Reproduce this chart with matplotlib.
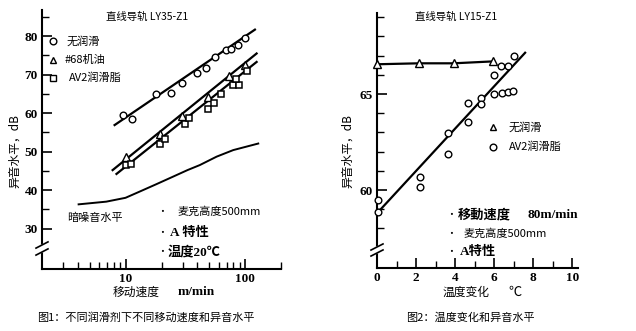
import matplotlib
matplotlib.use("Agg")
import matplotlib.pyplot as plt
import numpy as np

# ---------------- data: chart 1 (speed vs noise) ----------------
no_lub_speed = [9.6, 11.4, 17.9, 23.9, 29.7, 39.7, 46.8, 56, 68.8, 76.2, 87.3, 99.4]
no_lub_db = [59.5, 58.6, 64.9, 65.2, 67.9, 70.5, 71.6, 74.6, 76.4, 76.7, 77.7, 79.6]
no_lub_fit_speed = [8.1, 121]
no_lub_fit_db = [56.9, 81.7]

oil_speed = [10, 19.3, 29.9, 49.2, 73.8, 99.4]
oil_db = [48.6, 54.7, 59.2, 64.2, 69.6, 72.4]
oil_fit_speed = [7.8, 125]
oil_fit_db = [45.2, 75.5]

grease_speed = [10, 11.2, 19.3, 21.6, 31.7, 33.7, 49.2, 55.3, 62.8, 79.7, 89.4, 84.1, 103]
grease_db = [46.5, 46.9, 51.9, 53.4, 57.3, 58.8, 61.2, 62.7, 64.9, 67.3, 67.3, 68.8, 70.9]
grease_fit_speed = [8.4, 125]
grease_fit_db = [44.2, 73.3]

floor_speed = [4.05, 6.9, 10, 13.1, 18, 25, 33, 41.8, 57.9, 79.7, 129]
floor_db = [36.3, 37.0, 38.0, 39.6, 41.5, 43.5, 45.2, 46.5, 48.7, 50.4, 52.1]

# ---------------- data: chart 2 (temperature vs noise) ----------------
t_nolub = [0, 2.14, 3.93, 5.95]
db_nolub = [66.55, 66.6, 66.6, 66.7]

t_grease = [0.07, 0.07, 2.21, 2.21, 3.66, 3.63, 4.68, 4.68, 5.33, 5.33,
            5.97, 5.97, 6.38, 6.7, 6.96, 6.34, 6.73, 7.0]
db_grease = [59.5, 58.87, 60.7, 60.14, 62.98, 61.9, 64.55, 63.56, 64.77, 64.5,
             66.0, 65.0, 65.03, 65.1, 65.16, 66.46, 66.46, 67.0]
t_fit = [0.1, 7.59]
db_fit = [58.9, 67.15]

W, H = 636, 331
fig = plt.figure(figsize=(W / 100, H / 100), dpi=100)
fig.patch.set_facecolor("white")

CJK = ["Noto Sans CJK SC", "DejaVu Sans"]
SERIFB = ["Liberation Serif", "Noto Sans CJK SC", "DejaVu Sans"]


def P(x, y):
    return x / W, 1 - y / H


def ftext(x, y, s, size=8, family=CJK, weight="normal", ha="left", va="center", **kw):
    fig.text(*P(x, y), s, fontsize=size, family=family, weight=weight, ha=ha, va=va, **kw)


def style_axes(ax):
    for s in ["top", "right"]:
        ax.spines[s].set_visible(False)
    for s in ["left", "bottom"]:
        ax.spines[s].set_linewidth(1.5)
    ax.tick_params(which="major", direction="in", length=7, width=1.2, pad=3)
    ax.tick_params(which="minor", direction="in", length=5, width=1.0)
    for lab in ax.get_xticklabels() + ax.get_yticklabels():
        lab.set_fontfamily("Liberation Serif")
        lab.set_fontweight("bold")
        lab.set_fontsize(9.5)


def axis_break(ax, y0, y1, dx):
    # white gap + two slanted strokes crossing the y axis
    ax.fill([-dx, dx, dx, -dx], [y0 - 0.012, y0 + 0.012, y1 + 0.012, y1 - 0.012],
            color="white", transform=ax.transAxes, clip_on=False, zorder=5)
    for yy in (y0, y1):
        ax.plot([-dx, dx], [yy - 0.012, yy + 0.012], color="black", lw=1.2,
                transform=ax.transAxes, clip_on=False, zorder=6)


# ================= chart 1 =================
ax1 = fig.add_axes([42 / W, 1 - 269 / H, (281 - 42) / W, (269 - 10) / H])
ax1.set_xscale("log")
ax1.set_xlim(2, 200)
ax1.set_ylim(19.5, 86.8)
ax1.set_xticks([10, 100])
ax1.set_xticklabels(["10", "100"])
ax1.set_xticks([3, 4, 5, 6, 7, 8, 9, 20, 30, 40, 50, 60, 70, 80, 90, 200], minor=True)
ax1.xaxis.set_minor_formatter(matplotlib.ticker.NullFormatter())
ax1.set_yticks([30, 40, 50, 60, 70, 80])
ax1.set_yticks([35, 45, 55, 65, 75, 85], minor=True)
style_axes(ax1)

lw = 1.6
ax1.plot(no_lub_fit_speed, no_lub_fit_db, color="black", lw=lw, zorder=2)
ax1.plot(oil_fit_speed, oil_fit_db, color="black", lw=lw, zorder=2)
ax1.plot(grease_fit_speed, grease_fit_db, color="black", lw=lw, zorder=2)
ax1.plot(floor_speed, floor_db, color="black", lw=1.4, zorder=2)
ax1.plot(no_lub_speed, no_lub_db, "o", ms=4.8, mfc="white", mec="black", mew=1.0, zorder=3)
ax1.plot(oil_speed, oil_db, "^", ms=5.2, mfc="white", mec="black", mew=1.0, zorder=3)
ax1.plot(grease_speed, grease_db, "s", ms=5.0, mfc="white", mec="black", mew=1.1, zorder=3)
axis_break(ax1, (269 - 252) / 259, (269 - 245) / 259, 6 / 239)

# legend (manual)
def fig_marker(x, y, m, ms):
    fig.lines.append(matplotlib.lines.Line2D([x / W], [1 - y / H], marker=m, ms=ms,
                                             mfc="white", mec="black", mew=1.0,
                                             transform=fig.transFigure))

fig_marker(53, 41, "o", 4.8)
fig_marker(53, 60, "^", 5.0)
fig_marker(53, 78, "s", 5.0)
ftext(67, 41, "无润滑", 8)
ftext(65, 60, "#68机油", 8)
ftext(69, 78, "AV2润滑脂", 8)

ftext(147, 17, "直线导轨 LY35-Z1", 7.5, ha="center")
ftext(15, 151, "异音水平，dB", 8.5, ha="center", rotation=90)
ftext(94.5, 218, "暗噪音水平", 8, ha="center")
ftext(162, 212, "•", 7, ha="center")
ftext(162, 233, "•", 7, ha="center")
ftext(162, 252, "•", 7, ha="center")
ftext(177, 212, "麦克高度500mm", 8)
ftext(170, 233, "A 特性", 9.5, family=SERIFB, weight="bold")
ftext(168, 252, "温度20℃", 9.5, family=SERIFB, weight="bold")
ftext(136.5, 292, "移动速度", 8.5, ha="center")
ftext(196.5, 292, "m/min", 9.5, family=SERIFB, weight="bold", ha="center")
ftext(146, 317, "图1：不同润滑剂下不同移动速度和异音水平", 8, ha="center")

# ================= chart 2 =================
ax2 = fig.add_axes([377 / W, 1 - 268 / H, (578 - 377) / W, (268 - 13) / H])
ax2.set_xlim(0, 10.3)
ax2.set_ylim(55.94, 69.22)
ax2.set_xticks([0, 2, 4, 6, 8, 10])
ax2.set_xticks([1, 3, 5, 7, 9], minor=True)
ax2.set_yticks([60, 65])
ax2.set_yticks([58, 59, 61, 62, 63, 64, 66, 67, 68, 69], minor=True)
style_axes(ax2)

ax2.plot(t_nolub, db_nolub, color="black", lw=lw, zorder=2, clip_on=False)
ax2.plot(t_fit, db_fit, color="black", lw=lw, zorder=2)
ax2.plot(t_nolub, db_nolub, "^", ms=5.2, mfc="white", mec="black", mew=1.0, zorder=4, clip_on=False)
ax2.plot(t_grease, db_grease, "o", ms=4.8, mfc="white", mec="black", mew=1.0, zorder=4, clip_on=False)
axis_break(ax2, (268 - 253) / 255, (268 - 247) / 255, 6 / 201)

fig_marker(492.7, 127, "^", 5.0)
fig_marker(492.7, 146.7, "o", 4.8)
ftext(509, 127, "无润滑", 8)
ftext(509, 146.5, "AV2润滑脂", 8)

ftext(456, 17, "直线导轨 LY15-Z1", 7.5, ha="center")
ftext(348, 151, "异音水平，dB", 8.5, ha="center", rotation=90)
ftext(451, 215, "•", 7, ha="center")
ftext(451, 234, "•", 7, ha="center")
ftext(451, 252, "•", 7, ha="center")
ftext(458, 215, "移動速度", 9.5, family=SERIFB, weight="bold")
ftext(528, 215, "80m/min", 9.5, family=SERIFB, weight="bold")
ftext(463, 234, "麦克高度500mm", 8)
ftext(460, 252, "A特性", 9.5, family=SERIFB, weight="bold")
ftext(466.5, 292, "温度变化", 8.5, ha="center")
ftext(515, 292, "℃", 9.5, family=CJK, ha="center")
ftext(470, 318, "图2：温度变化和异音水平", 8, ha="center")

fig.savefig("out.png", dpi=100, facecolor="white")
